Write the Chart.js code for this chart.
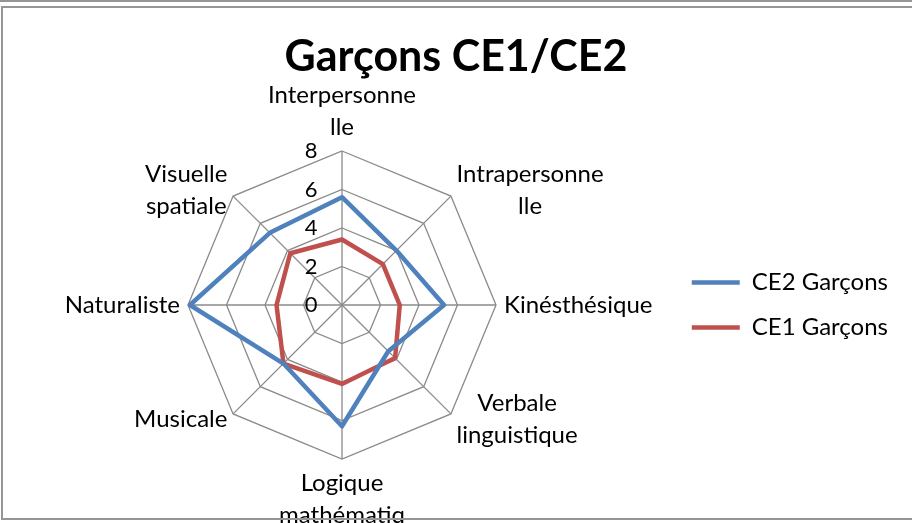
<!DOCTYPE html>
<html>
<head>
<meta charset="utf-8">
<script src="https://cdn.jsdelivr.net/npm/chart.js@4.4.1/dist/chart.umd.min.js"></script>
<style>
    body { margin: 0; background: #fff; overflow: hidden; }
    #holder { position: absolute; left: 0; top: 0; width: 912px; height: 523px; }
    #topline { position: absolute; left: 0; top: 0; width: 912px; height: 2px; background: #959595; }
    #frame { position: absolute; left: 1px; top: 6px; width: 920px; height: 510px; border: 2px solid #959595; pointer-events: none; }
</style>
</head>
<body>
<div id="holder"><canvas id="ChartRadar"></canvas></div>
<div id="topline"></div>
<div id="frame"></div>
<script>
const categories = [
    ['Interpersonne', 'lle'],
    ['Intrapersonne', 'lle'],
    'Kinésthésique',
    ['Verbale', 'linguistique'],
    ['Logique', 'mathématiq', 'ue'],
    'Musicale',
    'Naturaliste',
    ['Visuelle', 'spatiale']
];
const ce2Garcons = [5.6, 4.0, 5.3, 3.4, 6.3, 4.3, 7.9, 5.3];
const ce1Garcons = [3.4, 3.0, 3.0, 3.9, 4.1, 4.3, 3.4, 3.8];
const tickValues = [0, 2, 4, 6, 8];

// Excel-style category labels: the label block sits against the spoke end
// (above / below / beside it), its lines centred inside the block
const excelPointLabels = {
    id: 'excelPointLabels',
    afterDatasetsDraw(chart) {
        const scale = chart.scales.r;
        const ctx = chart.ctx;
        const lineHeight = 32;
        ctx.save();
        ctx.font = '24px Lato';
        ctx.fillStyle = '#000';
        ctx.textAlign = 'center';
        ctx.textBaseline = 'middle';
        chart.data.labels.forEach((label, i) => {
            const lines = [].concat(label);
            const blockWidth = Math.max(...lines.map(line => ctx.measureText(line).width));
            const pos = scale.getPointPosition(i, scale.drawingArea + 8);
            const dx = pos.x - scale.xCenter;
            const dy = pos.y - scale.yCenter;
            let x = pos.x;
            let top = pos.y - lines.length * lineHeight / 2;
            if (Math.abs(dx) < 1) {
                top = dy < 0 ? pos.y - lines.length * lineHeight : pos.y;
            } else {
                x = dx > 0 ? pos.x + blockWidth / 2 : pos.x - blockWidth / 2;
            }
            lines.forEach((line, j) => {
                ctx.fillText(line, x, top + lineHeight * (j + 0.5));
            });
        });
        ctx.restore();
    }
};

const chartRadar = document.getElementById('ChartRadar');
new Chart(chartRadar, {
    type: 'radar',
    data: {
        labels: categories,
        datasets: [{
            label: 'CE2 Garçons',
            data: ce2Garcons,
            borderColor: '#4f81bd',
            backgroundColor: '#4f81bd',
            borderWidth: 4.5,
            borderCapStyle: 'round',
            borderJoinStyle: 'round',
            fill: false,
            pointRadius: 0,
            pointHoverRadius: 0
        }, {
            label: 'CE1 Garçons',
            data: ce1Garcons,
            borderColor: '#c0504d',
            backgroundColor: '#c0504d',
            borderWidth: 4.5,
            borderCapStyle: 'round',
            borderJoinStyle: 'round',
            fill: false,
            pointRadius: 0,
            pointHoverRadius: 0
        }]
    },
    plugins: [excelPointLabels],
    options: {
        responsive: true,
        maintainAspectRatio: false,
        animation: false,
        layout: {
            padding: {left: 14, right: 14, top: 0, bottom: 52}
        },
        scales: {
            r: {
                // just below 0 so that Chart.js also prints the "0" tick
                min: -0.001,
                max: 8,
                afterBuildTicks: scale => {
                    scale.ticks = tickValues.map(v => ({value: v}));
                },
                ticks: {
                    color: '#000',
                    font: {family: 'Lato', size: 22},
                    showLabelBackdrop: false,
                    backdropPadding: 0,
                    // trailing spaces push the number left of the axis, as in the original
                    callback: value => value + '           '
                },
                grid: {color: '#8a8a8a', lineWidth: 1.3},
                angleLines: {color: '#8a8a8a', lineWidth: 1.3},
                pointLabels: {display: false}
            }
        },
        plugins: {
            title: {
                display: true,
                text: 'Garçons CE1/CE2',
                color: '#000',
                font: {family: 'Lato', size: 43, weight: 'bold', lineHeight: 0.33},
                padding: {top: 50, bottom: 75}
            },
            legend: {
                position: 'right',
                fullSize: false,
                labels: {
                    color: '#000',
                    font: {family: 'Lato', size: 24},
                    usePointStyle: true,
                    pointStyle: 'line',
                    pointStyleWidth: 48,
                    padding: 21
                }
            },
            tooltip: {enabled: false}
        }
    }
});
</script>
</body>
</html>
